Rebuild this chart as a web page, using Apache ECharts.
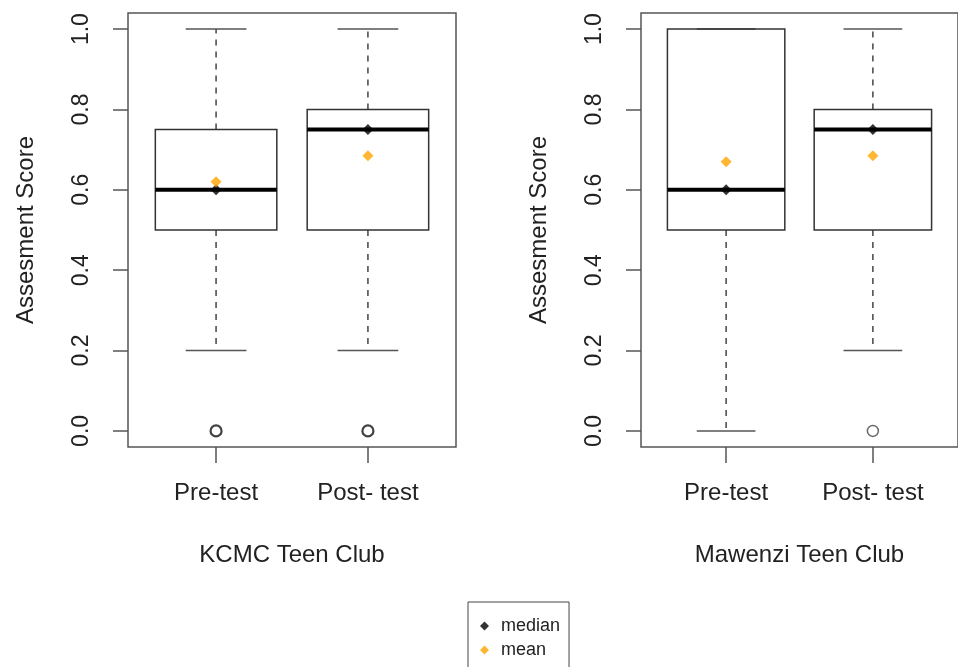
<!DOCTYPE html>
<html>
<head>
<meta charset="utf-8">
<script src="https://cdn.jsdelivr.net/npm/echarts@6/dist/echarts.min.js"></script>
<style>
  html, body { margin: 0; padding: 0; background: #fff; }
  #main { width: 958px; height: 667px; }
</style>
</head>
<body>
<div id="main"></div>
<script>
var categories = ['Pre-test', 'Post- test'];
var clubs = ['KCMC Teen Club', 'Mawenzi Teen Club'];
var yTicks = [0, 0.2, 0.4, 0.6, 0.8, 1.0];

// [min, Q1, median, Q3, max] per test
var kcmcBox = [[0.2, 0.5, 0.6, 0.75, 1.0], [0.2, 0.5, 0.75, 0.8, 1.0]];
var mawenziBox = [[0.0, 0.5, 0.6, 1.0, 1.0], [0.2, 0.5, 0.75, 0.8, 1.0]];
// outliers: [test index (1-based), value]
var kcmcOutliers = [[1, 0.0], [2, 0.0]];
var mawenziOutliers = [[2, 0.0]];
var kcmcMean = [0.62, 0.685];
var mawenziMean = [0.67, 0.685];

var font = 'Liberation Sans, Arial, sans-serif';
var txt = '#222';

function boxData(box) {
  return box.map(function (b, i) { return [i + 1].concat(b); });
}
function medianData(box) {
  return box.map(function (b, i) { return [i + 1, b[2]]; });
}
function meanData(m) {
  return m.map(function (v, i) { return [i + 1, v]; });
}

function renderBox(params, api) {
  var x = api.value(0);
  var w = api.size([0.8, 0])[0];
  var cap = api.size([0.4, 0])[0];
  var pMin = api.coord([x, api.value(1)]);
  var pQ1 = api.coord([x, api.value(2)]);
  var pMed = api.coord([x, api.value(3)]);
  var pQ3 = api.coord([x, api.value(4)]);
  var pMax = api.coord([x, api.value(5)]);
  var cx = pMin[0];
  var dashStyle = { stroke: '#444', lineWidth: 1.5, lineDash: [6, 6] };
  var capStyle = { stroke: '#555', lineWidth: 1.5 };
  return {
    type: 'group',
    children: [
      { type: 'line', shape: { x1: cx, y1: pQ1[1], x2: cx, y2: pMin[1] }, style: dashStyle },
      { type: 'line', shape: { x1: cx, y1: pQ3[1], x2: cx, y2: pMax[1] }, style: dashStyle },
      { type: 'line', shape: { x1: cx - cap / 2, y1: pMin[1], x2: cx + cap / 2, y2: pMin[1] }, style: capStyle },
      { type: 'line', shape: { x1: cx - cap / 2, y1: pMax[1], x2: cx + cap / 2, y2: pMax[1] }, style: capStyle },
      { type: 'rect', shape: { x: cx - w / 2, y: pQ3[1], width: w, height: pQ1[1] - pQ3[1] },
        style: { fill: 'rgba(0,0,0,0)', stroke: '#333', lineWidth: 1.5 } },
      { type: 'line', shape: { x1: cx - w / 2, y1: pMed[1], x2: cx + w / 2, y2: pMed[1] },
        style: { stroke: '#000', lineWidth: 4 } }
    ]
  };
}

var grids = [
  { left: 128, top: 13, width: 328, height: 434 },
  { left: 641, top: 13, width: 328, height: 434 }
];

var xAxes = [], yAxes = [];
grids.forEach(function (g, i) {
  g.show = true;
  g.borderColor = '#555';
  g.borderWidth = 1.5;
  g.backgroundColor = 'transparent';
  xAxes.push({
    type: 'value', gridIndex: i, min: 0.42, max: 2.58,
    name: clubs[i], nameLocation: 'middle', nameGap: 96,
    nameTextStyle: { fontSize: 24, color: txt, fontFamily: font },
    axisLine: { show: false, onZero: false },
    splitLine: { show: false },
    axisTick: { show: true, length: 16, customValues: [1, 2], lineStyle: { color: '#555', width: 1.5 } },
    axisLabel: {
      customValues: [1, 2], margin: 34, fontSize: 24, color: txt, fontFamily: font,
      formatter: function (v) { return categories[Math.round(v) - 1]; }
    }
  });
  yAxes.push({
    type: 'value', gridIndex: i, min: -0.04, max: 1.04,
    name: 'Assesment Score', nameLocation: 'middle', nameGap: 90,
    nameTextStyle: { fontSize: 24, color: txt, fontFamily: font },
    axisLine: { show: false, onZero: false },
    splitLine: { show: false },
    axisTick: { show: true, length: 15, customValues: yTicks, lineStyle: { color: '#555', width: 1.5 } },
    axisLabel: {
      customValues: yTicks, rotate: 90, margin: 35, fontSize: 23, color: txt, fontFamily: font,
      formatter: function (v) { return v.toFixed(1); }
    }
  });
});

var panels = [
  { box: kcmcBox, out: kcmcOutliers, mean: kcmcMean, outColor: '#111', outWidth: 2.2 },
  { box: mawenziBox, out: mawenziOutliers, mean: mawenziMean, outColor: '#444', outWidth: 1.5 }
];

var series = [];
panels.forEach(function (p, i) {
  series.push({
    type: 'custom', xAxisIndex: i, yAxisIndex: i,
    data: boxData(p.box), renderItem: renderBox, silent: true
  });
  series.push({
    type: 'scatter', xAxisIndex: i, yAxisIndex: i, data: p.out,
    symbol: 'circle', symbolSize: 11, silent: true,
    itemStyle: { color: '#fff', borderColor: p.outColor, borderWidth: p.outWidth }
  });
  series.push({
    name: 'median', type: 'scatter', xAxisIndex: i, yAxisIndex: i,
    data: medianData(p.box), symbol: 'diamond', symbolSize: 11, z: 5,
    itemStyle: { color: '#000' }
  });
  series.push({
    name: 'mean', type: 'scatter', xAxisIndex: i, yAxisIndex: i,
    data: meanData(p.mean), symbol: 'diamond', symbolSize: 11, z: 5,
    itemStyle: { color: '#FFA500' }
  });
});

var chart = echarts.init(document.getElementById('main'));
chart.setOption({
  animation: false,
  backgroundColor: '#fff',
  textStyle: { fontFamily: font },
  grid: grids,
  xAxis: xAxes,
  yAxis: yAxes,
  legend: {
    data: ['median', 'mean'],
    orient: 'vertical',
    left: 468, top: 602, height: 120,
    itemWidth: 9, itemHeight: 9, itemGap: 6,
    padding: [15, 9, 30, 12],
    borderColor: '#444', borderWidth: 1,
    textStyle: { fontSize: 18, color: txt, fontFamily: font, padding: [0, 0, 0, 7] }
  },
  series: series
});
</script>
</body>
</html>
